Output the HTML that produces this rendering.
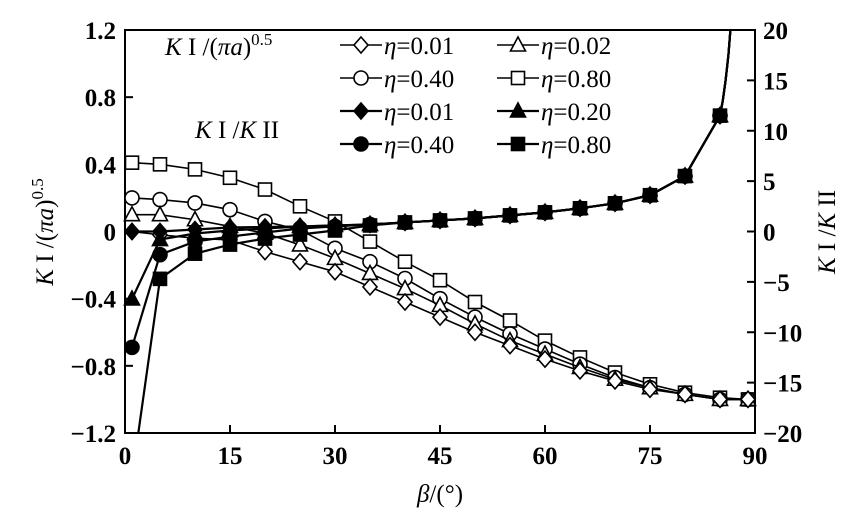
<!DOCTYPE html><html><head><style>body{margin:0;background:#fff}svg{display:block}text{font-family:"Liberation Serif",serif;fill:#000}</style></head><body>
<svg id="s" width="853" height="517" xmlns="http://www.w3.org/2000/svg"></svg>
<script>
const s=document.getElementById('s');let h='';
const X=b=>125+b*7, YL=v=>231.5-v*167.9, YR=v=>231.5-v*10.075;
h+='<rect x="125" y="30" width="630" height="403" fill="none" stroke="#000" stroke-width="2"/>';
[-1.2,-0.8,-0.4,0,0.4,0.8,1.2].forEach(v=>{let y=YL(v);h+=`<line x1="125" x2="133" y1="${y}" y2="${y}" stroke="#000" stroke-width="2"/><text x="116" y="${y+9}" font-size="25" font-weight="bold" text-anchor="end">${v==0?'0':(v<0?'−':'')+Math.abs(v).toFixed(1)}</text>`});
[-20,-15,-10,-5,0,5,10,15,20].forEach(v=>{let y=YR(v);h+=`<line x1="747" x2="755" y1="${y}" y2="${y}" stroke="#000" stroke-width="2"/><text x="763" y="${y+9}" font-size="25" font-weight="bold">${v<0?'−'+(-v):v}</text>`});
[0,15,30,45,60,75,90].forEach(b=>{let x=X(b);h+=`<line x1="${x}" x2="${x}" y1="425" y2="433" stroke="#000" stroke-width="2"/><text x="${x}" y="464" font-size="25" font-weight="bold" text-anchor="middle">${b}</text>`});
h+='<text x="440" y="502" font-size="25" text-anchor="middle"><tspan font-style="italic">β</tspan>/(°)</text>';
h+='<text transform="translate(53,232) rotate(-90)" font-size="25" text-anchor="middle"><tspan font-style="italic">K</tspan> I /(<tspan font-style="italic">πa</tspan>)<tspan dy="-10" font-size="17">0.5</tspan></text>';
h+='<text transform="translate(835,232) rotate(-90)" font-size="25" text-anchor="middle"><tspan font-style="italic">K</tspan> I /<tspan font-style="italic">K</tspan> II</text>';
h+='<text x="165" y="55" font-size="25"><tspan font-style="italic">K</tspan> I /(<tspan font-style="italic">πa</tspan>)<tspan dy="-10" font-size="17">0.5</tspan></text>';
h+='<text x="195" y="138" font-size="25"><tspan font-style="italic">K</tspan> I /<tspan font-style="italic">K</tspan> II</text>';
const B=[1,5,10,15,20,25,30,35,40,45,50,55,60,65,70,75,80,85,89];
const L={
sq:[0.41,0.40,0.37,0.32,0.25,0.15,0.06,-0.06,-0.18,-0.29,-0.42,-0.53,-0.65,-0.75,-0.84,-0.91,-0.96,-0.99,-1.0],
ci:[0.2,0.19,0.17,0.13,0.06,0.01,-0.1,-0.18,-0.28,-0.40,-0.51,-0.61,-0.7,-0.79,-0.87,-0.93,-0.97,-1,-1],
tr:[0.1,0.1,0.07,0.03,-0.01,-0.08,-0.16,-0.25,-0.34,-0.44,-0.55,-0.65,-0.73,-0.81,-0.88,-0.93,-0.97,-1,-1],
di:[0,-0.02,-0.04,-0.05,-0.12,-0.18,-0.24,-0.33,-0.42,-0.51,-0.6,-0.68,-0.76,-0.83,-0.89,-0.94,-0.97,-1,-1]};
const R={
di:[0,0,0.2,0.4,0.45,0.5,0.6,0.7,0.9,1.1,1.3,1.6,1.9,2.3,2.8,3.6,5.5,11.5],
tr:[-6.7,-0.8,-0.2,0.1,0.3,0.5,0.6,0.7,0.9,1.1,1.3,1.6,1.9,2.3,2.8,3.6,5.5,11.5],
ci:[-11.5,-2.3,-1,-0.5,-0.1,0.3,0.5,0.7,0.9,1.1,1.3,1.6,1.9,2.3,2.8,3.6,5.5,11.5],
sq:[null,-4.7,-2.2,-1.3,-0.7,-0.3,0.1,0.6,0.9,1.1,1.3,1.6,1.9,2.3,2.8,3.6,5.5,11.5]};
function mk(t,x,y,f){const fc=f?'#000':'#fff',st='stroke="#000" stroke-width="1.6" fill="'+fc+'"';
if(t=='sq')return `<rect x="${x-6.5}" y="${y-6.5}" width="13" height="13" ${st}/>`;
if(t=='ci')return `<circle cx="${x}" cy="${y}" r="7" ${st}/>`;
if(t=='tr')return `<polygon points="${x},${y-8} ${x+7.5},${y+6} ${x-7.5},${y+6}" ${st}/>`;
return `<polygon points="${x},${y-8} ${x+7},${y} ${x},${y+8} ${x-7},${y}" ${st}/>`;}
for(const k in L){let p=B.map((b,i)=>X(b)+','+YL(L[k][i]));h+=`<polyline points="${p.join(' ')}" fill="none" stroke="#000" stroke-width="1.6"/>`;B.forEach((b,i)=>h+=mk(k,X(b),YL(L[k][i]),0));}
const BR=B.slice(0,18);
h+=`<clipPath id="c"><rect x="125" y="30" width="630" height="403"/></clipPath><g clip-path="url(#c)">`;
for(const k in R){let p=[];if(k=='sq')p.push(X(1.7)+','+YR(-21));BR.forEach((b,i)=>{if(R[k][i]!=null)p.push(X(b)+','+YR(R[k][i]))});
[[85.4,13],[85.8,15],[86.2,17.5],[86.6,21]].forEach(([b,v])=>p.push(X(b)+','+YR(v)));
h+=`<polyline points="${p.join(' ')}" fill="none" stroke="#000" stroke-width="2.2" stroke-linejoin="round"/>`;}
h+='</g>';
for(const k in R)BR.forEach((b,i)=>{if(R[k][i]!=null)h+=mk(k,X(b),YR(R[k][i]),1)});
const lg=[['di',0,'0.01','tr',0,'0.02'],['ci',0,'0.40','sq',0,'0.80'],['di',1,'0.01','tr',1,'0.20'],['ci',1,'0.40','sq',1,'0.80']];
lg.forEach((r,j)=>{let y=45+j*33;[[340,r[0],r[1],r[2]],[497,r[3],r[4],r[5]]].forEach(([x,t,f,v])=>{h+=`<line x1="${x}" x2="${x+42}" y1="${y}" y2="${y}" stroke="#000" stroke-width="${f?2.2:1.6}"/>`+mk(t,x+21,y,f)+`<text x="${x+44}" y="${y+9}" font-size="25"><tspan font-style="italic">η</tspan>=${v}</text>`})});
s.innerHTML=h;
</script></body></html>
